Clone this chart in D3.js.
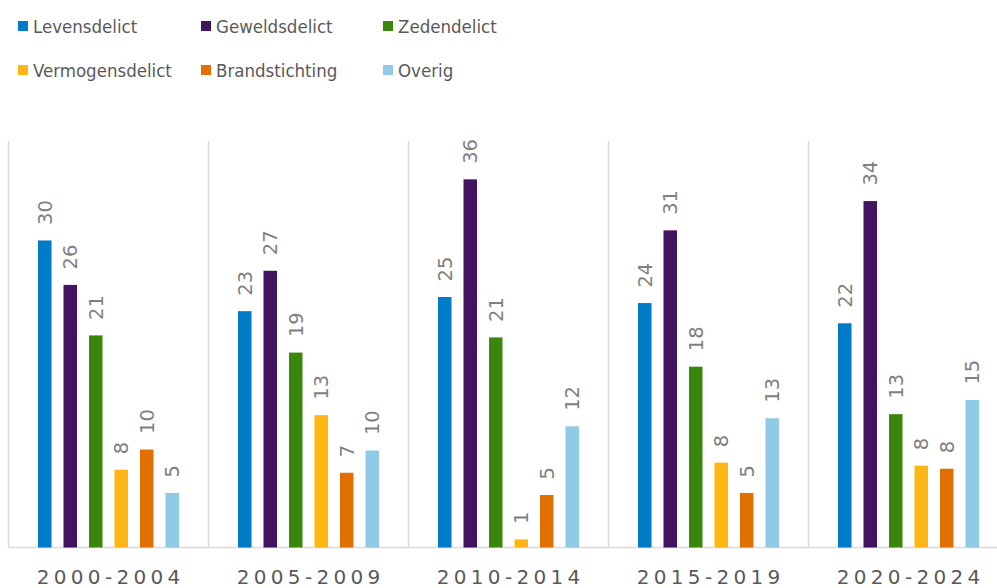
<!DOCTYPE html>
<html>
<head>
<meta charset="utf-8">
<script src="https://cdn.jsdelivr.net/npm/d3@7"></script>
<style>
  html, body { margin: 0; padding: 0; background: #fff; }
  svg { display: block; }
  text { font-family: "DejaVu Sans", Verdana, sans-serif; }
  .legend text { font-family: "DejaVu Sans Condensed", "DejaVu Sans", sans-serif; font-stretch: condensed; }
</style>
</head>
<body>
<svg id="chart" width="997" height="588"></svg>
<script>
const periods = ["2000-2004", "2005-2009", "2010-2014", "2015-2019", "2020-2024"];
const series = ["Levensdelict", "Geweldsdelict", "Zedendelict", "Vermogensdelict", "Brandstichting", "Overig"];
const colors = ["#007BC7", "#42145F", "#39870C", "#FFB612", "#E17000", "#8FCAE7"];
const levensdelict    = [30.4, 23.4, 24.8, 24.2, 22.2];
const geweldsdelict   = [26.0, 27.4, 36.45, 31.4, 34.3];
const zedendelict     = [21.0, 19.3, 20.8, 17.9, 13.2];
const vermogensdelict = [7.7, 13.1, 0.8, 8.4, 8.1];
const brandstichting  = [9.7, 7.4, 5.2, 5.4, 7.8];
const overig          = [5.4, 9.6, 12.0, 12.8, 14.6];
const yMax = 40;

const valuesBySeries = [levensdelict, geweldsdelict, zedendelict, vermogensdelict, brandstichting, overig];
const data = periods.map((p, i) => ({
  period: p,
  items: series.map((s, j) => ({ series: s, value: valuesBySeries[j][i], color: colors[j] }))
}));

const svg = d3.select("#chart");
const baseY = 547.5, topY = 141;

const x0 = d3.scaleBand().domain(periods).range([8.5, 1008.5]).padding(0);
const x1 = d3.scaleBand().domain(series).range([0, x0.bandwidth()])
  .paddingInner(0.47).paddingOuter(1.157);
const y = d3.scaleLinear().domain([0, yMax]).range([baseY, baseY - 10.1 * yMax]);

// separators
svg.append("g").selectAll("line").data(periods).join("line")
  .attr("x1", d => x0(d)).attr("x2", d => x0(d))
  .attr("y1", topY).attr("y2", baseY)
  .attr("stroke", "#d9d9d9").attr("stroke-width", 1.5);

// baseline axis
const xAxis = svg.append("g").attr("transform", `translate(0,${baseY})`)
  .call(d3.axisBottom(x0).tickSize(0).tickPadding(0));
xAxis.select(".domain").attr("stroke", "#d9d9d9").attr("stroke-width", 1.5)
  .attr("d", `M${x0.range()[0]},0H${x0.range()[1]}`);
xAxis.selectAll("text")
  .attr("y", 36.5).attr("dy", 0)
  .attr("dx", 2.15)
  .attr("fill", "#595959")
  .style("font-size", "20px")
  .style("letter-spacing", "4.3px")
  .style("font-family", "'DejaVu Sans', Verdana, sans-serif");

// bars
const groups = svg.append("g").selectAll("g").data(data).join("g")
  .attr("transform", d => `translate(${x0(d.period)},0)`);

groups.selectAll("rect").data(d => d.items).join("rect")
  .attr("x", d => x1(d.series))
  .attr("width", x1.bandwidth())
  .attr("y", d => y(d.value))
  .attr("height", d => baseY - y(d.value))
  .attr("fill", d => d.color);

groups.selectAll("text").data(d => d.items).join("text")
  .attr("transform", d => `translate(${x1(d.series) + x1.bandwidth() / 2},${y(d.value) - 15.5}) rotate(-90)`)
  .attr("dy", "0.36em")
  .attr("text-anchor", "start")
  .attr("fill", "#7f7f7f")
  .style("font-size", "19.5px")
  .text(d => Math.round(d.value));

// legend
const legendCols = [18, 201, 383];
const legendRows = [21, 65];
const legend = svg.append("g").attr("class", "legend").selectAll("g").data(series).join("g")
  .attr("transform", (d, i) => `translate(${legendCols[i % 3]},${legendRows[Math.floor(i / 3)]})`);
legend.append("rect").attr("width", 10).attr("height", 10).attr("fill", (d, i) => colors[i]);
legend.append("text").attr("x", 15).attr("y", 11.5)
  .attr("fill", "#595959").style("font-size", "18.5px").text(d => d);
</script>
</body>
</html>
